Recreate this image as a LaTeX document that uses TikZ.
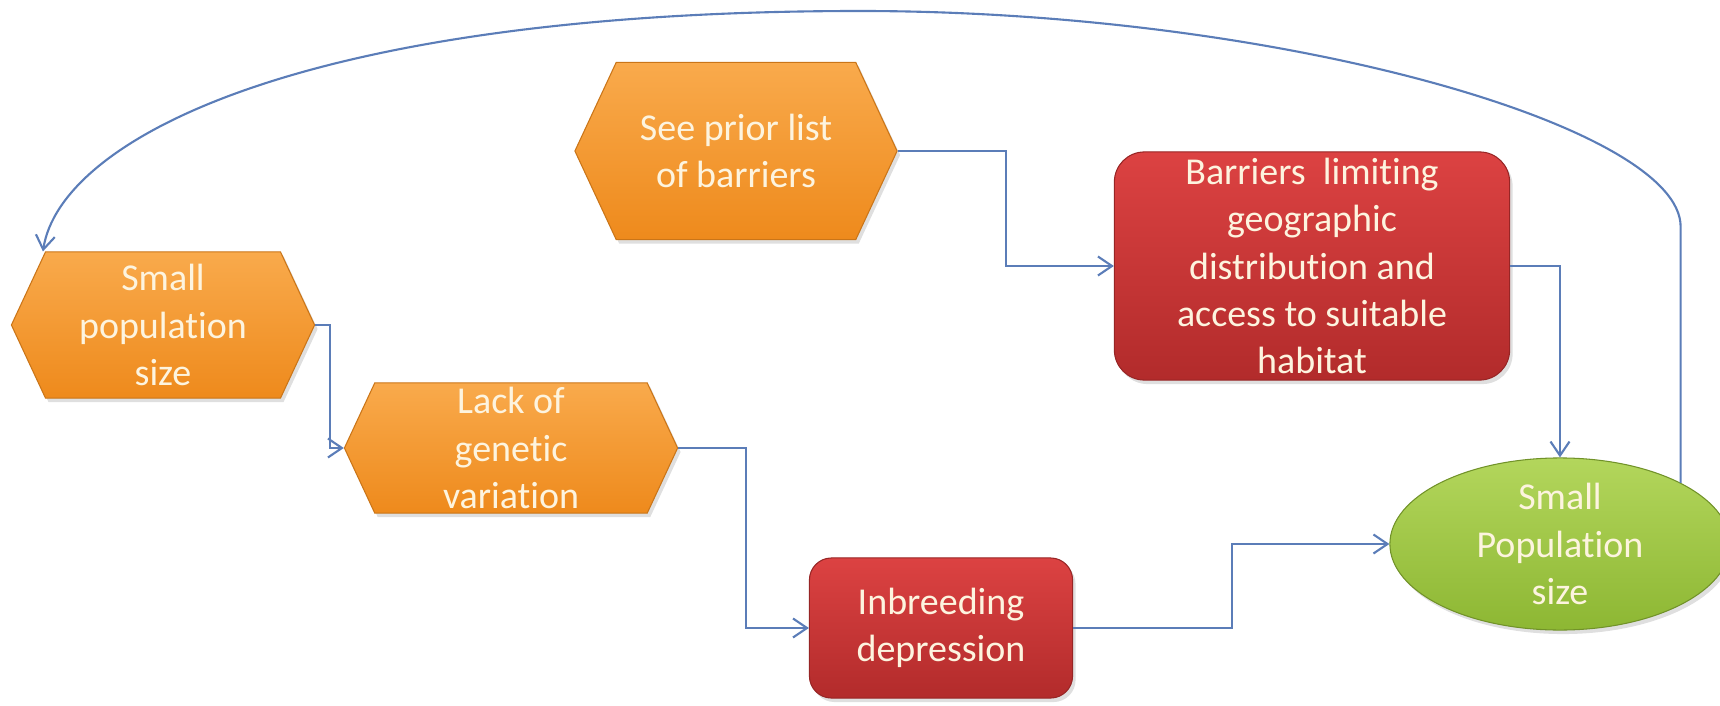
\documentclass[tikz,border=0pt]{standalone}
\usepackage{fontspec}
\setmainfont{Carlito}[Ligatures=NoCommon]
\usetikzlibrary{shapes.symbols,shapes.geometric,shadows,arrows.meta}

\definecolor{hexlight}{HTML}{F9AA4C}
\definecolor{hexdark}{HTML}{EE8A1C}
\definecolor{redlight}{HTML}{DC4242}
\definecolor{reddark}{HTML}{B22B2B}
\definecolor{greenlight}{HTML}{B3D65C}
\definecolor{greendark}{HTML}{8DB733}
\definecolor{linkblue}{HTML}{5B7DB8}
\definecolor{cream}{HTML}{FDF4DF}

\begin{document}
\begin{tikzpicture}[
    x=0.01cm, y=-0.01cm,
    boxtext/.style={text=cream, align=center, inner sep=0pt, font=\fontsize{10.8}{13.4}\selectfont,
        drop shadow={shadow xshift=0.03cm, shadow yshift=-0.04cm, opacity=0.25}},
    hexbox/.style={boxtext, signal, signal to=west and east, signal pointer angle=130,
        draw=hexdark!85!black, line width=0.3pt, top color=hexlight, bottom color=hexdark},
    redbox/.style={boxtext, rectangle, rounded corners=0.3cm,
        draw=reddark!85!black, line width=0.3pt, top color=redlight, bottom color=reddark},
    goal/.style={boxtext, ellipse, draw=greendark!80!black, line width=0.3pt,
        top color=greenlight, bottom color=greendark},
    arrow/.style={-{Straight Barb[length=1.4mm,width=1.9mm]}, draw=linkblue, line width=0.6pt}
]
\useasboundingbox (0,0) rectangle (1720,706);

% === Genetic path ===
\node[hexbox, minimum width=3.03cm, minimum height=1.46cm] (small_pop) at (163,325) {Small\\population\\size};
\node[hexbox, minimum width=3.33cm, minimum height=1.30cm] (lack_var) at (511,448) {Lack of\\genetic\\variation};
\node[redbox, rounded corners=0.22cm, minimum width=2.63cm, minimum height=1.40cm] (inbreed) at (941,628) {Inbreeding\\depression};

% === Barrier path ===
\node[hexbox, minimum width=3.22cm, minimum height=1.77cm] (prior) at (736,151) {See prior list\\of barriers};
\node[redbox, minimum width=3.95cm, minimum height=2.28cm] (barriers) at (1312,266) {Barriers\ \ limiting\\geographic\\distribution and\\access to suitable\\habitat};

% Outcome
\node[goal, minimum width=3.4cm, minimum height=1.72cm] (pop_size) at (1560,544) {Small\\Population\\size};

% Arrows
\draw[arrow] (small_pop.east) -- ++(15,0) |- (lack_var.west);
\draw[arrow] (lack_var.east) -- ++(68,0) |- (inbreed.west);
\draw[arrow] (inbreed.east) -- ++(159,0) |- (pop_size.west);
\draw[arrow] (prior.east) -- ++(108,0) |- (barriers.west);
\draw[arrow] (barriers.east) -| (pop_size.north);

% Feedback loop
\coordinate (peak) at (860,11);
\draw[arrow] (pop_size.north east) -- ++(0,-256)
    .. controls ++(0,-100) and (1280,11) .. (peak)
    .. controls (300,11) and (60,140) .. ([xshift=-1.2cm]small_pop.north);

\end{tikzpicture}
\end{document}
